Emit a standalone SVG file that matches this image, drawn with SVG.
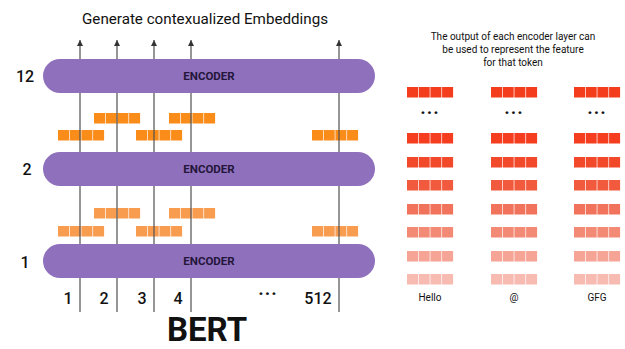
<svg xmlns="http://www.w3.org/2000/svg" width="625" height="349" viewBox="0 0 625 349">
<defs>
<style>
.enc{fill:#8f70bd}
.enct{font-family:Roboto,"Liberation Sans",sans-serif;font-weight:bold;font-size:11.5px;fill:#24163a;text-anchor:middle;dominant-baseline:central}
.tok{stroke:#505050;stroke-width:1.2;fill:none}
.lay{font-family:Roboto,"Liberation Sans",sans-serif;font-weight:500;font-size:16px;fill:#111;text-anchor:middle;dominant-baseline:central}
.num{font-family:Roboto,"Liberation Sans",sans-serif;font-weight:500;font-size:16px;fill:#111;text-anchor:middle}
.dots{font-family:Roboto,"Liberation Sans",sans-serif;font-weight:bold;font-size:18px;fill:#111;text-anchor:middle;letter-spacing:1px}
.cap{font-family:Roboto,"Liberation Sans",sans-serif;font-size:10px;fill:#111;text-anchor:middle}
.o1{fill:#fa8c1a}
.o2{fill:#f89c50}
</style>
<marker id="ah" viewBox="0 0 6 6" refX="6" refY="3" markerWidth="6" markerHeight="6" markerUnits="userSpaceOnUse" orient="auto">
<path d="M0,0 L6,3 L0,6 Z" fill="#333"/>
</marker>
<g id="ob">
<rect x="0" y="0" width="11" height="10.5"/><rect x="11.7" y="0" width="11" height="10.5"/><rect x="23.4" y="0" width="11" height="10.5"/><rect x="35.1" y="0" width="11" height="10.5"/>
</g>
</defs>
<rect width="625" height="349" fill="#fff"/>
<text x="205" y="24" font-family="Roboto,'Liberation Sans',sans-serif" font-size="14.5" fill="#111" text-anchor="middle" textLength="246" lengthAdjust="spacingAndGlyphs">Generate contexualized Embeddings</text>

<g id="orange-blocks">
<use href="#ob" x="94" y="113" class="o1"/>
<use href="#ob" x="169" y="113" class="o1"/>
<use href="#ob" x="58" y="130" class="o1"/>
<use href="#ob" x="136" y="130" class="o1"/>
<use href="#ob" x="312" y="130" class="o1"/>
<use href="#ob" x="94" y="208" class="o2"/>
<use href="#ob" x="169" y="208" class="o2"/>
<use href="#ob" x="58" y="226" class="o2"/>
<use href="#ob" x="136" y="226" class="o2"/>
<use href="#ob" x="312" y="226" class="o2"/>
</g>

<g id="connectors">
<line class="tok" x1="80" y1="312" x2="80" y2="40" marker-end="url(#ah)"/>
<line class="tok" x1="117" y1="312" x2="117" y2="40" marker-end="url(#ah)"/>
<line class="tok" x1="154" y1="312" x2="154" y2="40" marker-end="url(#ah)" stroke="#8a8a8a"/>
<line class="tok" x1="191" y1="312" x2="191" y2="40" marker-end="url(#ah)"/>
<line class="tok" x1="339" y1="312" x2="339" y2="40" marker-end="url(#ah)"/>
</g>

<g id="enc12">
<rect class="enc" x="43" y="59" width="332" height="34" rx="17"/>
<text class="enct" x="209" y="76">ENCODER</text>
<text class="lay" x="25" y="76">12</text>
</g>
<g id="enc2">
<rect class="enc" x="43" y="152" width="332" height="34" rx="17"/>
<text class="enct" x="209" y="169">ENCODER</text>
<text class="lay" x="27" y="169">2</text>
</g>
<g id="enc1">
<rect class="enc" x="43" y="244" width="332" height="34" rx="17"/>
<text class="enct" x="209" y="261">ENCODER</text>
<text class="lay" x="25" y="262">1</text>
</g>

<g id="tokens">
<text class="num" x="68" y="304">1</text>
<text class="num" x="104" y="304">2</text>
<text class="num" x="142" y="304">3</text>
<text class="num" x="178" y="304">4</text>
<text class="dots" x="268" y="300">···</text>
<text class="num" x="318" y="304">512</text>
</g>
<text x="207" y="341" font-family="Roboto,'Liberation Sans',sans-serif" font-size="33" font-weight="bold" fill="#111" text-anchor="middle">BERT</text>

<g id="feature-panel">
<text class="cap" x="513" y="40">The output of each encoder layer can</text>
<text class="cap" x="513" y="53">be used to represent the feature</text>
<text class="cap" x="513" y="66">for that token</text>
<g id="col-hello">
<use href="#ob" x="407" y="87" fill="#f43d1d"/>
<text class="dots" x="430" y="119">···</text>
<use href="#ob" x="407" y="133" fill="#f43e1f"/>
<use href="#ob" x="407" y="157" fill="#f3492b"/>
<use href="#ob" x="407" y="180" fill="#f25a3d"/>
<use href="#ob" x="407" y="204" fill="#f2735b"/>
<use href="#ob" x="407" y="227" fill="#f38a76"/>
<use href="#ob" x="407" y="251" fill="#f6a496"/>
<use href="#ob" x="407" y="274" fill="#f8bbb2"/>
<text class="cap" x="430" y="301">Hello</text>
</g>
<g id="col-at">
<use href="#ob" x="491" y="87" fill="#f43d1d"/>
<text class="dots" x="514" y="119">···</text>
<use href="#ob" x="491" y="133" fill="#f43e1f"/>
<use href="#ob" x="491" y="157" fill="#f3492b"/>
<use href="#ob" x="491" y="180" fill="#f25a3d"/>
<use href="#ob" x="491" y="204" fill="#f2735b"/>
<use href="#ob" x="491" y="227" fill="#f38a76"/>
<use href="#ob" x="491" y="251" fill="#f6a496"/>
<use href="#ob" x="491" y="274" fill="#f8bbb2"/>
<text class="cap" x="514" y="301">@</text>
</g>
<g id="col-gfg">
<use href="#ob" x="574" y="87" fill="#f43d1d"/>
<text class="dots" x="597" y="119">···</text>
<use href="#ob" x="574" y="133" fill="#f43e1f"/>
<use href="#ob" x="574" y="157" fill="#f3492b"/>
<use href="#ob" x="574" y="180" fill="#f25a3d"/>
<use href="#ob" x="574" y="204" fill="#f2735b"/>
<use href="#ob" x="574" y="227" fill="#f38a76"/>
<use href="#ob" x="574" y="251" fill="#f6a496"/>
<use href="#ob" x="574" y="274" fill="#f8bbb2"/>
<text class="cap" x="597" y="301">GFG</text>
</g>
</g>
</svg>
